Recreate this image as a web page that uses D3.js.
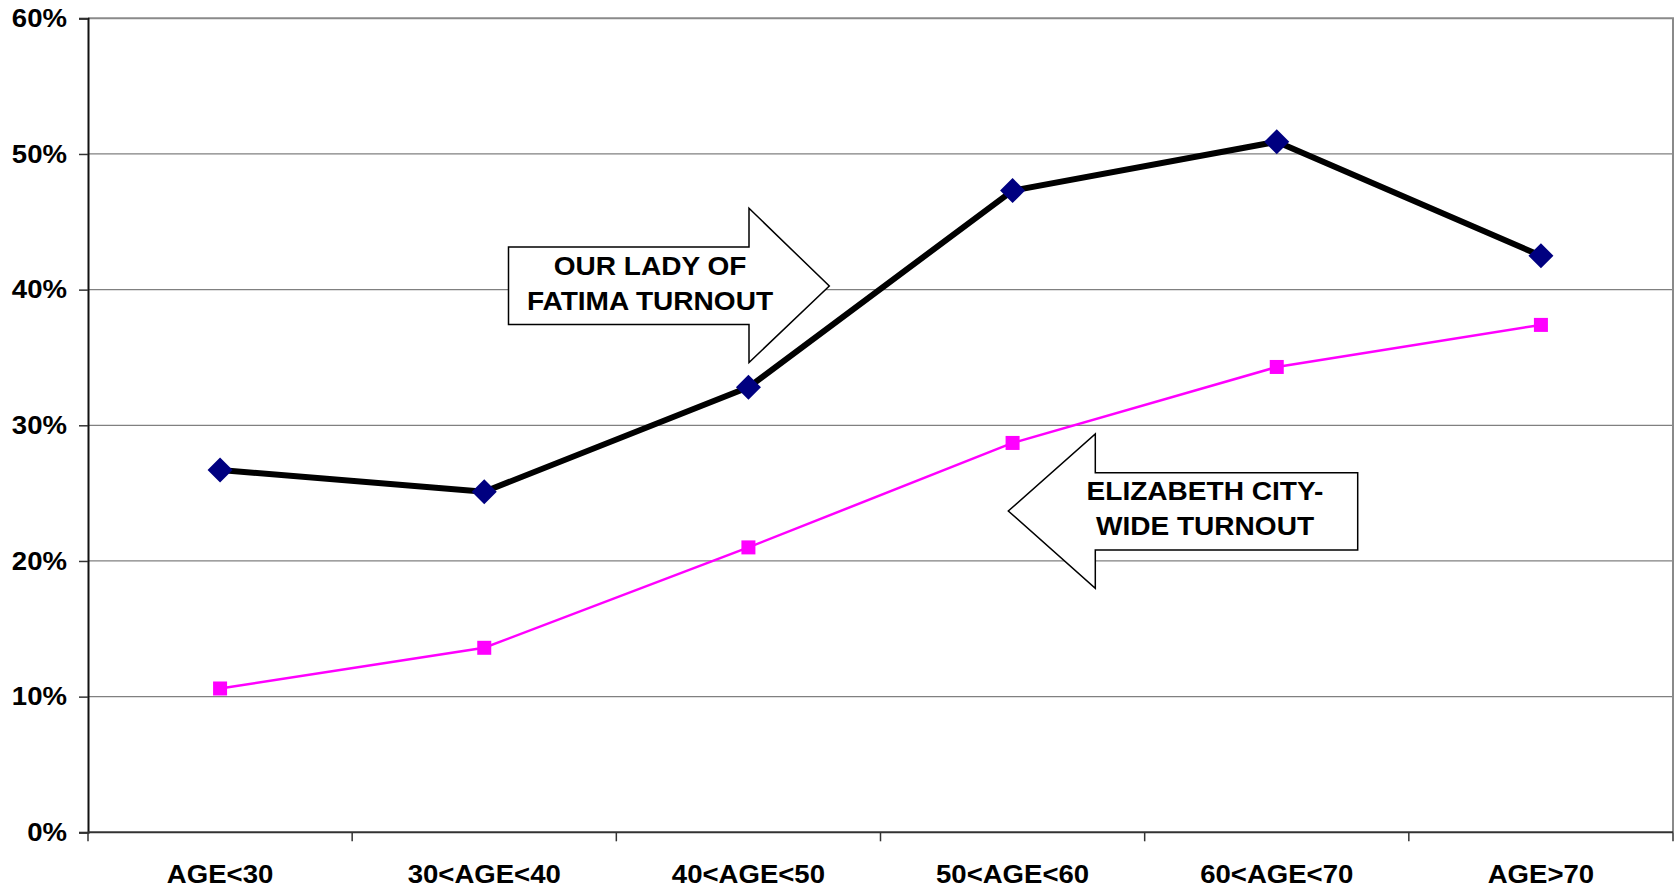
<!DOCTYPE html>
<html>
<head>
<meta charset="utf-8">
<script src="https://cdn.jsdelivr.net/npm/d3@7"></script>
<style>
  body { margin: 0; background: #fff; }
  text { font-family: "Liberation Sans", Arial, sans-serif; font-weight: bold; fill: #000; }
</style>
</head>
<body>
<div id="chart"></div>
<script>
// Age groups and turnout (fraction)
const categories = ['AGE<30', '30<AGE<40', '40<AGE<50', '50<AGE<60', '60<AGE<70', 'AGE>70'];
const fatimaTurnout = [0.267, 0.251, 0.328, 0.473, 0.509, 0.425];
const cityTurnout = [0.106, 0.136, 0.210, 0.287, 0.343, 0.374];
const yTicks = [0, 0.1, 0.2, 0.3, 0.4, 0.5, 0.6];

const width = 1675;
const height = 891;
const margin = { top: 18.3, right: 2, bottom: 58.7, left: 88 };
const stretch = 1.06; // the original text is a bit wider than Liberation Sans

const svg = d3.select('#chart')
  .append('svg')
  .attr('width', width)
  .attr('height', height);

const x = d3.scaleBand()
  .domain(categories)
  .range([margin.left, width - margin.right]);

const y = d3.scaleLinear()
  .domain([0, 0.6])
  .range([height - margin.bottom, margin.top]);

const x0 = margin.left, x1 = width - margin.right;
const y0 = y(0), y1 = y(0.6);

// Gridlines
svg.append('g')
  .selectAll('line')
  .data(yTicks.filter(d => d > 0 && d < 0.6))
  .join('line')
    .attr('x1', x0).attr('x2', x1)
    .attr('y1', d => y(d)).attr('y2', d => y(d))
    .attr('stroke', '#808080')
    .attr('stroke-width', 1.2);

// Plot border (top and right, gray)
svg.append('path')
  .attr('d', `M${x0},${y1}H${x1}V${y0}`)
  .attr('fill', 'none')
  .attr('stroke', '#8a8a8a')
  .attr('stroke-width', 2);

// Y axis
const yAxis = svg.append('g')
  .attr('transform', `translate(${x0},0)`)
  .call(d3.axisLeft(y).tickValues(yTicks).tickFormat(d3.format('.0%')).tickSize(9).tickPadding(12));
yAxis.select('.domain').attr('stroke', '#111').attr('stroke-width', 2);
yAxis.selectAll('.tick line').attr('stroke', '#333').attr('stroke-width', 1.5);
yAxis.selectAll('.tick text')
  .attr('font-size', 26).attr('fill', '#000')
  .attr('font-family', '"Liberation Sans", Arial, sans-serif').attr('font-weight', 'bold')
  .attr('x', -21 / stretch)
  .attr('transform', `scale(${stretch},1)`);

// X axis: ticks between categories
const bounds = categories.map(c => x(c)).concat([x1]);
svg.append('g')
  .selectAll('line')
  .data(bounds)
  .join('line')
    .attr('x1', d => d).attr('x2', d => d)
    .attr('y1', y0).attr('y2', y0 + 9)
    .attr('stroke', '#333')
    .attr('stroke-width', 1.5);
svg.append('line')
  .attr('x1', x0).attr('x2', x1)
  .attr('y1', y0).attr('y2', y0)
  .attr('stroke', '#333')
  .attr('stroke-width', 2);
svg.append('g')
  .selectAll('text')
  .data(categories)
  .join('text')
    .attr('transform', d => `translate(${x(d) + x.bandwidth() / 2},${y0 + 51}) scale(${stretch},1)`)
    .attr('text-anchor', 'middle')
    .attr('font-size', 26)
    .text(d => d);

// Block arrow annotations
function blockArrow(pts, lines, tx, ty) {
  const g = svg.append('g');
  g.append('path')
    .attr('d', d3.line()(pts) + 'Z')
    .attr('fill', '#fff')
    .attr('stroke', '#000')
    .attr('stroke-width', 1.5)
    .attr('stroke-linejoin', 'miter');
  const t = g.append('g').attr('transform', `translate(${tx},${ty}) scale(1.1,1)`);
  lines.forEach((s, i) => {
    t.append('text')
      .attr('x', 0)
      .attr('y', i * 35.5)
      .attr('text-anchor', 'middle')
      .attr('font-size', 25.5)
      .text(s);
  });
}

blockArrow([[508.5, 247], [749, 247], [749, 208.3], [829.3, 286], [749, 362.5], [749, 324.5], [508.5, 324.5]],
  ['OUR LADY OF', 'FATIMA TURNOUT'], 650, 275);
blockArrow([[1357.7, 472.7], [1095.3, 472.7], [1095.3, 434], [1008.3, 511], [1095.3, 588.3], [1095.3, 550], [1357.7, 550]],
  ['ELIZABETH CITY-', 'WIDE TURNOUT'], 1205, 500);

const cx = (d, i) => x(categories[i]) + x.bandwidth() / 2;

// City-wide series (magenta, squares)
svg.append('path')
  .datum(cityTurnout)
  .attr('fill', 'none')
  .attr('stroke', '#ff00ff')
  .attr('stroke-width', 2.5)
  .attr('d', d3.line().x(cx).y(d => y(d)));
svg.append('g')
  .selectAll('rect')
  .data(cityTurnout)
  .join('rect')
    .attr('x', (d, i) => cx(d, i) - 7)
    .attr('y', d => y(d) - 7)
    .attr('width', 14)
    .attr('height', 14)
    .attr('fill', '#ff00ff');

// Our Lady of Fatima series (black line, navy diamonds)
svg.append('path')
  .datum(fatimaTurnout)
  .attr('fill', 'none')
  .attr('stroke', '#000')
  .attr('stroke-width', 6)
  .attr('stroke-linejoin', 'round')
  .attr('d', d3.line().x(cx).y(d => y(d)));
svg.append('g')
  .selectAll('path')
  .data(fatimaTurnout)
  .join('path')
    .attr('transform', (d, i) => `translate(${cx(d, i)},${y(d)})`)
    .attr('d', 'M0,-12.5L12.5,0L0,12.5L-12.5,0Z')
    .attr('fill', '#000080');
</script>
</body>
</html>
